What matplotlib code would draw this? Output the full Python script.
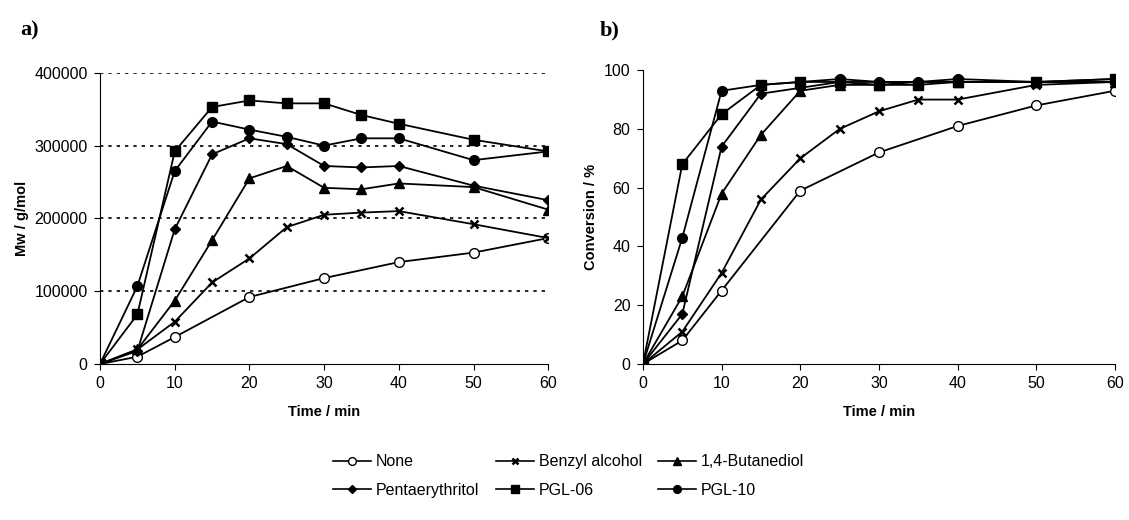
import matplotlib.pyplot as plt
from matplotlib.lines import Line2D

plt.rcParams["font.family"] = ["Liberation Sans", "DejaVu Sans"]

# time points (min)
time = [0, 5, 10, 15, 20, 25, 30, 35, 40, 50, 60]
time_none = [0, 5, 10, 20, 30, 40, 50, 60]

# a) Mw / g/mol
mw_none = [0, 10000, 37000, 92000, 118000, 140000, 153000, 173000]
mw_benzyl = [0, 20000, 58000, 112000, 145000, 188000, 205000, 208000, 210000, 192000, 173000]
mw_butanediol = [0, 20000, 87000, 170000, 255000, 272000, 242000, 240000, 248000, 243000, 212000]
mw_penta = [0, 18000, 185000, 288000, 310000, 302000, 272000, 270000, 272000, 245000, 225000]
mw_pgl06 = [0, 68000, 292000, 353000, 362000, 358000, 358000, 342000, 330000, 308000, 292000]
mw_pgl10 = [0, 107000, 265000, 333000, 322000, 312000, 300000, 310000, 310000, 280000, 292000]

# b) Conversion / %
conv_none = [0, 8, 25, 59, 72, 81, 88, 93]
conv_benzyl = [0, 11, 31, 56, 70, 80, 86, 90, 90, 95, 96]
conv_butanediol = [0, 23, 58, 78, 93, 95, 95, 96, 96, 96, 96]
conv_penta = [0, 17, 74, 92, 94, 96, 96, 96, 96, 96, 96]
conv_pgl06 = [0, 68, 85, 95, 96, 96, 95, 95, 96, 96, 97]
conv_pgl10 = [0, 43, 93, 95, 96, 97, 96, 96, 97, 96, 97]

labels = ["None", "Benzyl alcohol", "1,4-Butanediol", "Pentaerythritol", "PGL-06", "PGL-10"]
styles = [
    dict(marker="o", markerfacecolor="white", markersize=7),
    dict(marker="x", markersize=6, markeredgewidth=1.8),
    dict(marker="^", markersize=7),
    dict(marker="D", markersize=5),
    dict(marker="s", markersize=7),
    dict(marker="o", markersize=7),
]

mw_series = [mw_none, mw_benzyl, mw_butanediol, mw_penta, mw_pgl06, mw_pgl10]
conv_series = [conv_none, conv_benzyl, conv_butanediol, conv_penta, conv_pgl06, conv_pgl10]
x_series = [time_none] + [time] * 5

fig = plt.figure(figsize=(11.29, 5.2), dpi=100)
ax1 = fig.add_axes([0.0886, 0.30, 0.397, 0.56])
ax2 = fig.add_axes([0.5695, 0.30, 0.418, 0.565])

for ax, series in [(ax1, mw_series), (ax2, conv_series)]:
    for x, y, st in zip(x_series, series, styles):
        ax.plot(x, y, color="black", linewidth=1.3, markeredgecolor="black", zorder=3, **st)
    ax.set_xlim(0, 60)
    ax.set_xticks([0, 10, 20, 30, 40, 50, 60])
    ax.spines["top"].set_visible(False)
    ax.spines["right"].set_visible(False)
    ax.tick_params(direction="out", length=4, labelsize=11.5, pad=5)
    ax.set_xlabel("Time / min", fontsize=10.5, fontweight="bold", labelpad=10)

ax1.set_ylim(0, 400000)
ax1.set_yticks([0, 100000, 200000, 300000, 400000])
ax1.set_yticklabels(["0", "100000", "200000", "300000", "400000"])
ax1.yaxis.grid(True, linestyle=(0, (2, 3)), color="black", linewidth=1.2)
ax1.get_ygridlines()[0].set_visible(False)
ax1.set_axisbelow(True)
ax1.set_ylabel("Mw / g/mol", fontsize=10.5, fontweight="bold", labelpad=4)

ax2.set_ylim(0, 100)
ax2.set_yticks([0, 20, 40, 60, 80, 100])
ax2.set_yticklabels(["0", "20", "40", "60", "80", "100"])
ax2.set_ylabel("Conversion / %", fontsize=10.5, fontweight="bold", labelpad=4)

fig.text(0.018, 0.96, "a)", fontsize=16, fontweight="bold", family="Liberation Serif", va="top")
fig.text(0.531, 0.96, "b)", fontsize=16, fontweight="bold", family="Liberation Serif", va="top")

# legend is filled column by column, reorder so rows read like the original
handles = [Line2D([], [], color="black", linewidth=1.2, markeredgecolor="black", **st)
           for st in styles]
order = [0, 3, 1, 4, 2, 5]
fig.legend([handles[i] for i in order], [labels[i] for i in order],
           loc="upper left", bbox_to_anchor=(0.295, 0.126), ncol=3,
           frameon=False, fontsize=11.5, handlelength=2.4, handletextpad=0.3,
           columnspacing=1.0, labelspacing=0.85, markerscale=0.8,
           borderpad=0, borderaxespad=0)

plt.savefig("out.png", dpi=100)
